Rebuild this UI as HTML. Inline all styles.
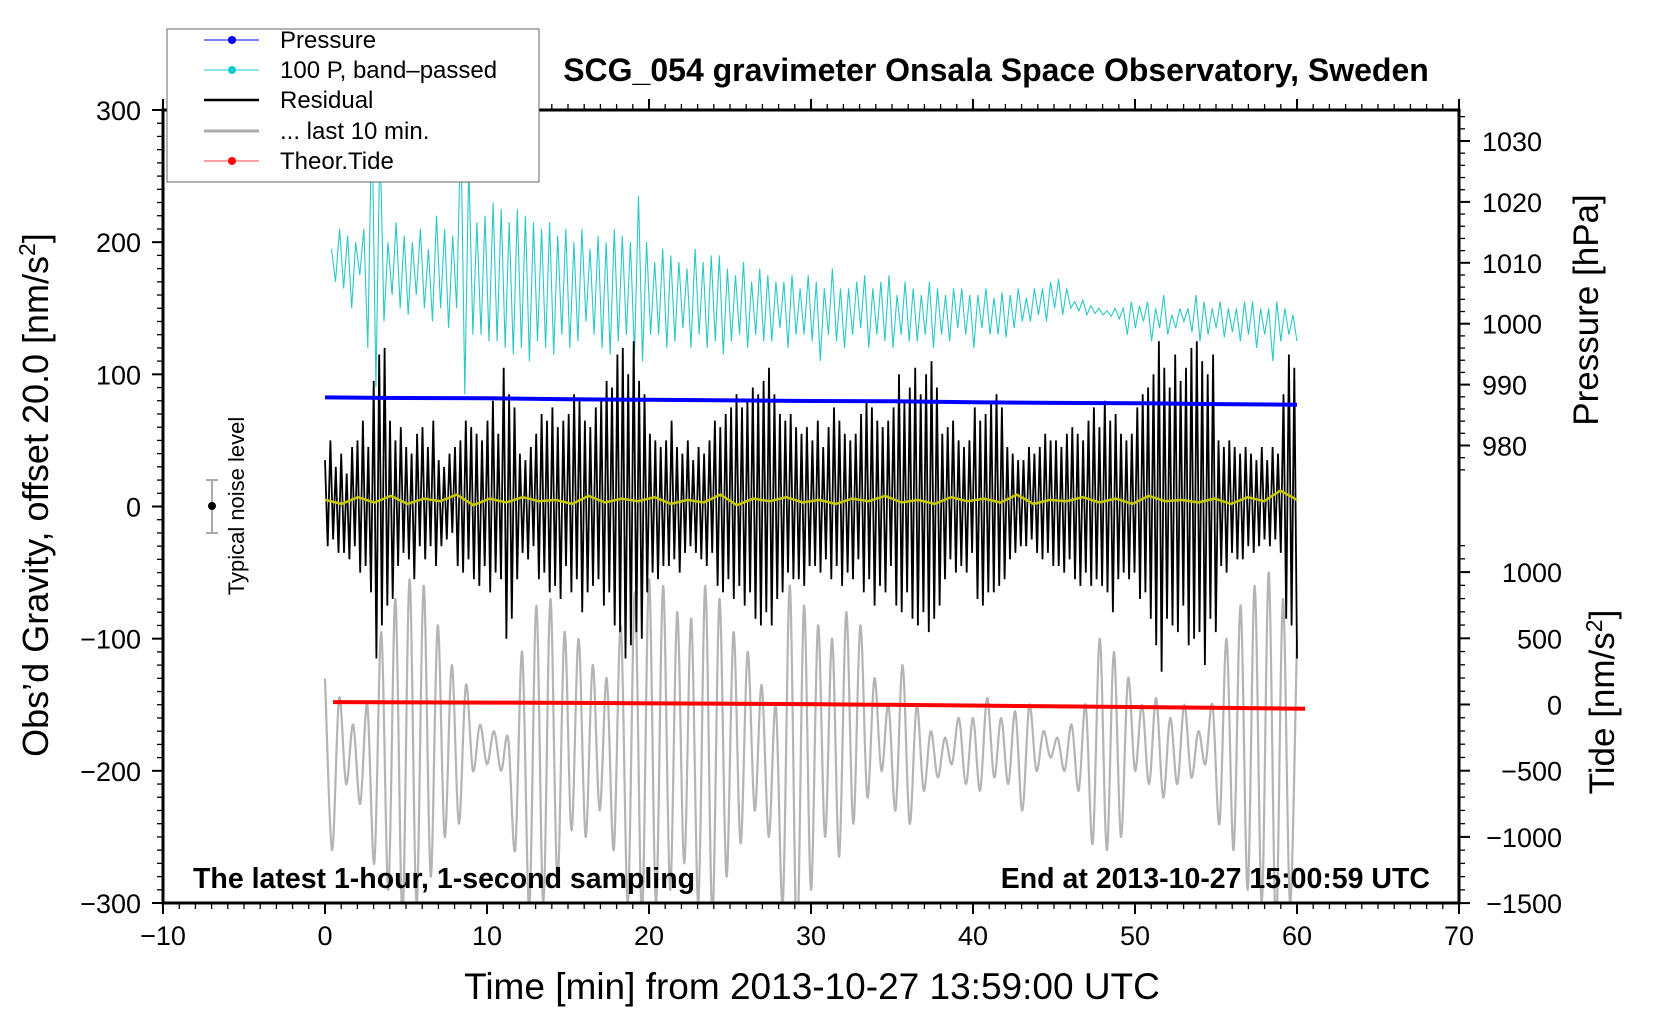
<!DOCTYPE html>
<html><head><meta charset="utf-8"><title>SCG_054 gravimeter</title>
<style>
html,body{margin:0;padding:0;background:#fff;}
svg{display:block;font-family:"Liberation Sans",Arial,sans-serif;}
</style></head>
<body>
<svg id="chart" width="1660" height="1020" viewBox="0 0 1660 1020" xmlns="http://www.w3.org/2000/svg">
<defs><clipPath id="plotclip"><rect x="163" y="110" width="1296" height="793"/></clipPath></defs>
<g id="axes"></g>
<g id="series" clip-path="url(#plotclip)"></g>
<rect x="163" y="110" width="1296" height="793" fill="none" stroke="#000" stroke-width="3"/>
<text x="996" y="81" text-anchor="middle" font-size="32" font-weight="bold">SCG_054 gravimeter Onsala Space Observatory, Sweden</text>
<text x="193" y="888" font-size="28.5" font-weight="bold">The latest 1-hour, 1-second sampling</text>
<text x="1430" y="888" text-anchor="end" font-size="28.5" font-weight="bold">End at 2013-10-27 15:00:59 UTC</text>
<text x="812" y="999" text-anchor="middle" font-size="37">Time [min] from 2013-10-27 13:59:00 UTC</text>
<text transform="translate(48,495) rotate(-90)" text-anchor="middle" font-size="36">Obs’d Gravity, offset 20.0 [nm/s<tspan dy="-13" font-size="23">2</tspan><tspan dy="13">]</tspan></text>
<text transform="translate(1598,310) rotate(-90)" text-anchor="middle" font-size="35">Pressure [hPa]</text>
<text transform="translate(1614,702) rotate(-90)" text-anchor="middle" font-size="35">Tide [nm/s<tspan dy="-12" font-size="23">2</tspan><tspan dy="12">]</tspan></text>
<g>
<line x1="212" y1="480" x2="212" y2="533" stroke="#aaa" stroke-width="2"/>
<line x1="206" y1="480" x2="218" y2="480" stroke="#aaa" stroke-width="2"/>
<line x1="206" y1="533" x2="218" y2="533" stroke="#aaa" stroke-width="2"/>
<circle cx="212" cy="506" r="4" fill="#000"/>
<text transform="translate(244,506) rotate(-90)" text-anchor="middle" font-size="22">Typical noise level</text>
</g>
<g>
<rect x="167" y="29" width="372" height="153" fill="#fff" stroke="#666" stroke-width="1"/>
<g><line x1="204" y1="40" x2="259" y2="40" stroke="#00f" stroke-width="1"/><circle cx="232" cy="40" r="4" fill="#00f"/><text x="280" y="48" font-size="24">Pressure</text></g>
<g><line x1="204" y1="70" x2="259" y2="70" stroke="#2cc" stroke-width="1"/><circle cx="232" cy="70" r="4" fill="#1cc"/><text x="280" y="78" font-size="24">100 P, band–passed</text></g>
<g><line x1="204" y1="100" x2="259" y2="100" stroke="#000" stroke-width="2.5"/><text x="280" y="108" font-size="24">Residual</text></g>
<g><line x1="204" y1="131" x2="259" y2="131" stroke="#aaa" stroke-width="3"/><text x="280" y="139" font-size="24">... last 10 min.</text></g>
<g><line x1="204" y1="161" x2="259" y2="161" stroke="#f44" stroke-width="1"/><circle cx="232" cy="161" r="4" fill="#f00"/><text x="280" y="169" font-size="24">Theor.Tide</text></g>
</g>
</svg>
<script>
// ---- data ----
const xTicks = [-10,0,10,20,30,40,50,60,70];
const yTicks = [300,200,100,0,-100,-200,-300];
const pressureTicks = [1030,1020,1010,1000,990,980];
const tideTicks = [1000,500,0,-500,-1000,-1500];
const pressureTimes = [0,5,10,15,20,25,30,35,40,45,50,55,60];
const pressureValues = [987.9,987.8,987.75,987.6,987.5,987.4,987.3,987.25,987.1,987.0,986.95,986.8,986.7];
const tideTimes = [0.5,5.5,10.5,15.5,20.5,25.5,30.5,35.5,40.5,45.5,50.5,55.5,60.5];
const tideValues = [18,16,14,12,8,5,2,-3,-8,-14,-20,-26,-32];
const residualValues = [
30,-35,45,-30,25,-40, 35,-40,20,-45,40,-35, 45,-55,60,-50,40,-70, 90,-120,110,-95,115,-80,
60,-75,45,-50,55,-40, 40,-45,35,-60,50,-35, 55,-45,40,-35,60,-50, 30,-35,25,-30,35,-25,
40,-50,45,-55,60,-45, 55,-60,50,-65,45,-50, 60,-70,75,-55,50,-60, 100,-105,80,-90,70,-60,
35,-40,30,-45,40,-35, 50,-60,65,-55,60,-70, 70,-65,55,-75,60,-50, 65,-70,80,-60,75,-85,
60,-70,55,-65,70,-60, 75,-80,90,-70,85,-95, 110,-100,115,-120,95,-110, 120,-100,90,-105,80,-70,
50,-55,45,-60,40,-50, 45,-50,60,-45,40,-55, 35,-40,45,-35,30,-40, 40,-45,35,-50,45,-40,
60,-65,55,-70,65,-60, 70,-75,80,-65,70,-80, 75,-70,85,-90,80,-95, 90,-85,100,-95,80,-75,
65,-70,60,-55,65,-60, 55,-60,50,-65,55,-50, 45,-50,60,-55,40,-45, 55,-60,70,-50,60,-65,
50,-55,45,-60,50,-45, 65,-70,75,-60,70,-80, 60,-65,55,-70,60,-50, 70,-80,95,-85,75,-70,
85,-90,100,-95,80,-85, 95,-100,105,-90,85,-80, 50,-60,55,-45,60,-55, 45,-50,40,-55,45,-40,
70,-75,60,-80,65,-70, 75,-70,80,-65,70,-60, 40,-45,35,-40,30,-35, 30,-35,40,-30,35,-40,
40,-45,50,-40,45,-50, 45,-50,40,-55,50,-45, 55,-60,50,-65,45,-55, 60,-65,70,-60,55,-65,
75,-70,60,-85,65,-60, 50,-55,45,-60,50,-55, 70,-75,80,-70,85,-90, 95,-110,120,-130,100,-90,
85,-95,110,-100,90,-80, 100,-110,115,-105,120,-100, 105,-125,95,-90,110,-100, 45,-50,40,-55,45,-40,
40,-45,35,-45,40,-35, 35,-40,30,-35,40,-30, 30,-35,40,-30,35,-40, 80,-90,110,-95,100,-120];
const bandpassValues = [
195,170,210,165, 205,150,200,175, 210,120,300,90, 280,140,200,160, 215,150,205,145,
200,160,210,150, 195,140,220,150, 210,135,205,150, 290,85,260,130, 215,130,220,125,
230,125,225,120, 215,115,225,120, 220,110,215,125, 210,120,215,115, 205,130,210,120,
200,125,210,140, 195,130,205,120, 200,115,210,125, 205,130,200,115, 235,110,200,130,
185,130,195,120, 190,125,185,135, 180,120,195,130, 185,120,190,125, 190,115,180,125,
175,130,185,120, 170,130,180,125, 175,125,170,135, 170,120,175,130, 165,130,175,125,
170,110,165,130, 180,125,165,120, 165,130,170,135, 175,120,165,130, 170,125,175,120,
160,130,170,125, 165,125,160,130, 170,120,165,130, 160,125,165,135, 165,130,160,120,
160,135,165,130, 158,130,162,128, 160,135,165,140, 158,140,165,145, 165,140,170,150,
172,145,165,150, 155,148,156,145, 152,146,150,145, 148,144,150,142, 150,130,155,135,
152,140,155,125, 150,135,160,130, 145,135,150,140, 150,132,160,125, 155,130,150,135,
155,128,150,132, 150,125,155,130, 155,120,150,130, 150,110,155,125, 150,130,145,125];
const last10Values = [-130,-260,-145,-210,-165,-225,-150,-270,-95,-290,-70,-310,-55,-300,-60,-280,-90,-250,-120,-240,-135,-200,-165,-195,-170,-200,-175,-260,-110,-305,-75,-300,-70,-285,-95,-245,-100,-250,-120,-230,-130,-260,-90,-300,-65,-310,-55,-300,-60,-290,-80,-270,-85,-300,-60,-310,-70,-280,-95,-255,-110,-230,-135,-250,-150,-300,-60,-330,-75,-290,-90,-250,-100,-265,-80,-240,-90,-220,-130,-200,-150,-230,-120,-240,-150,-215,-170,-205,-175,-195,-160,-210,-160,-215,-145,-205,-160,-210,-155,-230,-150,-200,-170,-190,-175,-200,-165,-215,-150,-255,-100,-260,-110,-250,-130,-200,-150,-210,-145,-220,-160,-210,-150,-205,-170,-195,-150,-240,-100,-260,-75,-290,-60,-300,-50,-320,-70,-300,-100];
const smoothedValues = [5,2,7,3,8,2,6,4,9,1,6,3,7,4,5,2,8,3,6,4,7,2,5,3,9,1,6,4,7,3,5,2,6,4,8,3,5,2,7,4,6,3,9,2,5,4,7,3,6,2,8,4,5,3,6,2,7,4,12,5];

// ---- axis functions ----
const X0=163, X1=1459, Y0=110, Y1=903;
const xs = t => X0 + (t+10)/80*(X1-X0);
const yg = v => Y0 + (300-v)/600*(Y1-Y0);
const yp = p => 141 + (1030-p)*6.09;
const yt = n => 704.5 - n*0.1324;
const NS='http://www.w3.org/2000/svg';
function mk(tag, attrs, parent){const e=document.createElementNS(NS,tag);for(const k in attrs)e.setAttribute(k,attrs[k]);parent.appendChild(e);return e;}
const axes=document.getElementById('axes'), series=document.getElementById('series');

for(let m=-10;m<=70;m++){
  const x=xs(m), major=(m%10===0), L=major?11:6;
  const tb=mk('line',{x1:x,y1:Y1,x2:x,y2:Y1+L,stroke:'#000','stroke-width':major?2:1.3},axes);
  
  
  const tt=mk('line',{x1:x,y1:Y0,x2:x,y2:Y0-L,stroke:'#000','stroke-width':major?2:1.3},axes);
  
  
}
xTicks.forEach(v=>{
  const t=mk('text',{x:xs(v),y:945,'text-anchor':'middle','font-size':27},axes);
  t.textContent=String(v).replace('-','\u2212');
  
  
});
for(let v=-300;v<=300;v+=10){
  const y=yg(v), major=(v%100===0);
  const l=mk('line',{x1:X0,y1:y,x2:X0-(major?11:6),y2:y,stroke:'#000','stroke-width':major?2:1.3},axes);
  
  
}
yTicks.forEach(v=>{
  const t=mk('text',{x:141,y:yg(v)+10,'text-anchor':'end','font-size':27},axes);
  t.textContent=String(v).replace('-','\u2212');
  
  
});
for(let p=1034;p>=976;p-=2){
  const y=yp(p), major=(p%10===0);
  if(y<Y0) continue;
  const l=mk('line',{x1:X1,y1:y,x2:X1+(major?11:6),y2:y,stroke:'#000','stroke-width':major?2:1.3},axes);
  
  
}
pressureTicks.forEach(v=>{
  const t=mk('text',{x:1482,y:yp(v)+10,'font-size':27},axes);
  t.textContent=v;
  
  
});
for(let n=1200;n>=-1500;n-=100){
  const y=yt(n), major=(n%500===0);
  const l=mk('line',{x1:X1,y1:y,x2:X1+(major?11:6),y2:y,stroke:'#000','stroke-width':major?2:1.3},axes);
  
  
}
tideTicks.forEach(v=>{
  const t=mk('text',{x:1562,y:yt(v)+10,'text-anchor':'end','font-size':27},axes);
  t.textContent=String(v).replace('-','\u2212');
  
  
});

function poly(vals, t0, t1, yf){
  const n=vals.length;return vals.map((v,i)=>[xs(t0+(t1-t0)*i/(n-1)),yf(v)]);
}
function smoothPath(pts){
  let d='M'+pts[0][0].toFixed(1)+','+pts[0][1].toFixed(1);
  for(let i=0;i<pts.length-1;i++){
    const p0=pts[i-1]||pts[i],p1=pts[i],p2=pts[i+1],p3=pts[i+2]||p2;
    const c1=[p1[0]+(p2[0]-p0[0])/6,p1[1]+(p2[1]-p0[1])/6],c2=[p2[0]-(p3[0]-p1[0])/6,p2[1]-(p3[1]-p1[1])/6];
    d+='C'+c1[0].toFixed(1)+','+c1[1].toFixed(1)+' '+c2[0].toFixed(1)+','+c2[1].toFixed(1)+' '+p2[0].toFixed(1)+','+p2[1].toFixed(1);
  }
  return d;
}
const ptsStr=p=>p.map(q=>q[0].toFixed(1)+','+q[1].toFixed(1)).join(' ');

const g1=mk('path',{d:smoothPath(poly(last10Values,0,60,yg)),fill:'none',stroke:'#b4b4b4','stroke-width':2.2},series);



const c1=mk('polyline',{points:ptsStr(poly(bandpassValues,0.4,60,yg)),fill:'none',stroke:'#2cc8c8','stroke-width':1.1},series);



const r1=mk('polyline',{points:ptsStr(poly(residualValues,0,60,v=>yg(v+5))),fill:'none',stroke:'#000','stroke-width':1.8},series);



const y1=mk('polyline',{points:ptsStr(poly(smoothedValues,0,60,yg)),fill:'none',stroke:'#c8c800','stroke-width':2.5},series);



const p1=mk('polyline',{points:ptsStr(pressureValues.map((v,i)=>[xs(pressureTimes[i]),yp(v)])),fill:'none',stroke:'#0000ff','stroke-width':4},series);



const t1=mk('polyline',{points:ptsStr(tideValues.map((v,i)=>[xs(tideTimes[i]),yt(v)])),fill:'none',stroke:'#ff0000','stroke-width':4},series);


</script>
</body></html>
